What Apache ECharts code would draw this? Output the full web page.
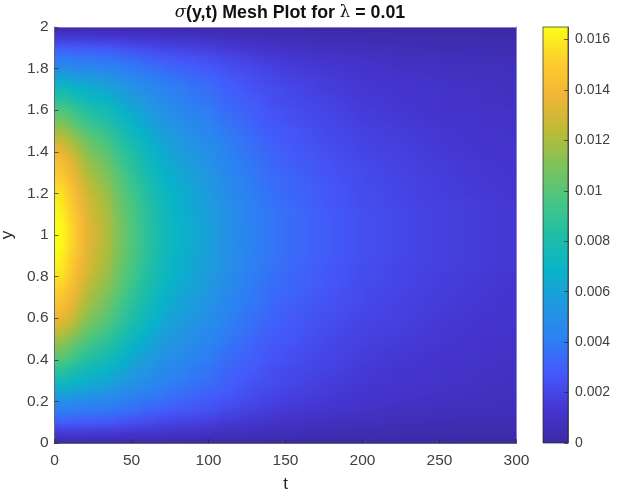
<!DOCTYPE html>
<html><head><meta charset="utf-8">
<style>html,body{margin:0;padding:0;background:#fff}#c{width:617px;height:497px}</style>
<script src="https://cdn.jsdelivr.net/npm/echarts@6/dist/echarts.min.js"></script>
</head><body><div id="c"></div>
<script>
const tValues=[0,5,10,15,20,25,30,35,40,45,50,55,60,65,70,75,80,90,100,110,120,130,140,150,175,200,225,250,275,300];
// sigma readings in units of 1e-4, one list per distance from the wall y=0 (picture is symmetric about y=1)
const u000=[0,1,1,1,2,2,2,2,2,2,2,2,2,2,2,2,2,1,1,1,1,1,1,1,1,1,1,1,0,0];
const u005=[14,15,15,15,15,14,14,14,14,13,13,12,12,12,11,11,10,10,9,8,8,7,6,6,5,4,3,3,3,2];
const u010=[28,30,29,28,28,28,27,27,26,25,24,23,22,21,20,20,19,18,17,15,14,12,11,10,8,7,6,5,5,4];
const u015=[38,40,40,38,38,38,37,37,35,34,33,32,30,29,28,27,26,25,23,21,19,17,15,14,12,10,8,7,6,6];
const u020=[47,50,49,47,48,46,46,45,43,42,40,39,37,36,35,33,32,30,28,25,23,21,19,17,14,12,10,9,8,7];
const u025=[62,64,62,59,59,57,56,54,52,49,47,45,43,41,40,38,37,34,32,29,26,23,21,19,16,13,12,10,9,8];
const u030=[74,76,73,70,68,65,64,62,59,56,53,51,48,46,44,42,41,37,35,31,28,25,23,21,17,14,13,11,10,8];
const u035=[86,87,83,79,76,73,71,69,65,62,58,56,53,50,47,45,44,40,37,33,30,27,24,22,19,15,13,12,10,9];
const u040=[97,98,94,88,85,81,78,76,71,67,63,60,57,54,51,49,47,43,40,35,32,29,26,24,20,16,14,12,11,10];
const u045=[108,108,103,97,92,88,85,82,77,73,68,65,61,58,54,52,50,46,42,37,34,30,27,25,21,17,15,13,12,10];
const u050=[118,117,112,105,100,95,92,88,83,78,73,69,65,61,58,55,53,48,45,40,36,32,29,27,22,18,16,14,12,11];
const u055=[128,127,121,113,107,102,98,94,88,83,77,74,69,65,61,58,56,51,47,42,38,34,30,28,23,19,17,14,13,11];
const u060=[137,135,129,121,114,108,104,100,93,88,82,78,73,69,65,61,59,54,50,44,39,35,32,29,24,20,18,15,13,12];
const u065=[143,142,135,126,119,113,109,104,97,91,85,81,76,71,67,64,61,56,51,45,41,37,33,30,25,21,18,16,14,12];
const u070=[149,147,140,131,123,117,113,108,101,95,88,84,78,74,69,66,63,58,53,47,42,38,34,32,26,22,19,16,14,13];
const u075=[154,152,144,135,127,121,116,112,104,98,91,86,81,76,72,68,65,60,55,48,44,39,35,33,27,22,20,17,15,13];
const u080=[158,156,148,138,131,124,119,115,107,100,94,89,83,78,74,70,67,61,56,50,45,40,36,33,28,23,20,17,15,13];
const u085=[161,159,151,141,134,127,122,117,109,102,96,91,85,80,75,71,68,62,58,51,46,41,37,34,28,23,20,18,16,14];
const u090=[163,161,153,143,135,128,123,119,111,104,97,92,86,81,76,72,69,63,58,51,46,41,38,35,29,24,21,18,16,14];
const u095=[165,163,155,145,137,130,125,120,112,105,98,93,87,82,77,73,70,64,59,52,47,42,38,35,29,24,21,18,16,14];
const u100=[165,163,155,145,137,130,125,120,112,105,98,93,87,82,77,73,70,64,59,52,47,42,38,35,29,24,21,18,16,14];
const halfRows=[u000,u005,u010,u015,u020,u025,u030,u035,u040,u045,u050,u055,u060,u065,u070,u075,u080,u085,u090,u095,u100];
const yBottom=[0,0.05,0.1,0.15,0.2,0.25,0.3,0.35,0.4,0.45,0.5,0.55,0.6,0.65,0.7,0.75,0.8,0.85,0.9,0.95,1];
const colorbarTicks=[0,0.002,0.004,0.006,0.008,0.01,0.012,0.014,0.016];
const colorMax=0.0165;
const palette=['#3c2aa3','#4536d2','#4558fb','#2d80f4','#2198e0','#08b4c8','#20bea6','#48c682','#7ec35a','#bcbb36','#f2b536','#fecd2e','#faff14'];

const yValues=yBottom.concat(yBottom.slice(0,-1).reverse().map(u=>2-u));
const rows=halfRows.concat(halfRows.slice(0,-1).reverse());
const nT=tValues.length,nY=yValues.length;
const points=[];
rows.forEach((r,j)=>r.forEach((v,i)=>points.push([tValues[i],yValues[j],v*1e-4])));
const colorOf=v=>echarts.color.lerp(Math.min(v/colorMax,1),palette);

// one mesh facet with interpolated shading, like MATLAB's "shading interp": a 2x2 image upscaled between the four corners
function facet(c00,c10,c01,c11){
  const cv=document.createElement('canvas');cv.width=2;cv.height=2;
  const g=cv.getContext('2d');
  g.fillStyle=c01;g.fillRect(0,0,1,1);g.fillStyle=c11;g.fillRect(1,0,1,1);
  g.fillStyle=c00;g.fillRect(0,1,1,1);g.fillStyle=c10;g.fillRect(1,1,1,1);
  return cv;
}

const font='"Liberation Sans",Arial,sans-serif';
const axisTxt={color:'#404040',fontSize:15.5,fontFamily:font};
const barTxt={color:'#404040',fontSize:14,fontFamily:font};
const nameTxt={color:'#262626',fontSize:17,fontFamily:font};
const line={onZero:false,lineStyle:{color:'#262626',width:0.7}};
const tick={inside:true,length:4,lineStyle:{color:'#262626',width:0.7}};
const edge={onZero:false,lineStyle:{color:'#8c7fe0',width:1}};
const chart=echarts.init(document.getElementById('c'),null,{renderer:'canvas'});
chart.setOption({
  animation:false,backgroundColor:'#fff',
  title:{left:285,top:-1,textAlign:'center',
    text:'{g|σ}{b|(y,t) Mesh Plot for }{l|λ}{b| = 0.01}',
    textStyle:{rich:{
      b:{fontFamily:font,fontWeight:'bold',fontSize:17.8,color:'#111'},
      g:{fontFamily:'"DejaVu Serif",serif',fontStyle:'italic',fontWeight:'normal',fontSize:16.5,color:'#111'},
      l:{fontFamily:'"DejaVu Serif",serif',fontWeight:'normal',fontSize:16.5,color:'#111'}}}},
  grid:[{left:54.5,top:27,width:462,height:416,outerBoundsMode:'none'},{left:543,top:27,width:25,height:416,outerBoundsMode:'none'}],
  xAxis:[
    {gridIndex:0,type:'value',min:0,max:300,interval:50,z:5,name:'t',nameLocation:'middle',nameGap:33,nameTextStyle:nameTxt,
     axisLine:line,axisTick:tick,axisLabel:{...axisTxt,margin:10},splitLine:{show:false}},
    {gridIndex:1,type:'value',min:0,max:1,show:false},
    {gridIndex:0,type:'value',min:0,max:300,position:'top',z:5,axisLine:edge,axisTick:{show:false},axisLabel:{show:false},splitLine:{show:false}}
  ],
  yAxis:[
    {gridIndex:0,type:'value',min:0,max:2,interval:0.2,z:5,name:'y',nameLocation:'middle',nameGap:37,nameTextStyle:nameTxt,
     axisLine:line,axisTick:tick,axisLabel:{...axisTxt,margin:6},splitLine:{show:false}},
    {gridIndex:1,type:'value',min:0,max:colorMax,position:'right',z:5,
     axisLine:line,axisTick:{...tick,customValues:colorbarTicks},
     axisLabel:{...barTxt,margin:7,customValues:colorbarTicks,formatter:v=>String(v)},splitLine:{show:false}},
    {gridIndex:0,type:'value',min:0,max:2,position:'right',z:5,axisLine:edge,axisTick:{show:false},axisLabel:{show:false},splitLine:{show:false}}
  ],
  visualMap:{show:false,seriesIndex:0,dimension:2,min:0,max:colorMax,inRange:{color:palette}},
  series:[
    {type:'custom',xAxisIndex:0,yAxisIndex:0,data:points,encode:{x:0,y:1},silent:true,clip:true,
     renderItem:(p,api)=>{
       const k=p.dataIndex,i=k%nT,j=Math.floor(k/nT);
       if(i===nT-1||j===nY-1) return null;
       const a=api.coord([tValues[i],yValues[j+1]]),b=api.coord([tValues[i+1],yValues[j]]);
       const x=Math.round(a[0]),y=Math.round(a[1]);
       const v=(n)=>colorOf(points[n][2]);
       return {type:'image',style:{image:facet(v(k),v(k+1),v(k+nT),v(k+nT+1)),x,y,
         width:Math.round(b[0])-x,height:Math.round(b[1])-y,sx:0.5,sy:0.5,sWidth:1,sHeight:1}};
     }},
    {type:'custom',xAxisIndex:1,yAxisIndex:1,data:[[0,1,0,colorMax]],encode:{x:[0,1],y:[2,3]},silent:true,
     renderItem:(p,api)=>{
       const a=api.coord([api.value(0),api.value(3)]),b=api.coord([api.value(1),api.value(2)]);
       return {type:'rect',shape:{x:a[0],y:a[1],width:b[0]-a[0],height:b[1]-a[1]},
         style:{stroke:'#262626',lineWidth:0.7,fill:{type:'linear',x:0,y:1,x2:0,y2:0,
           colorStops:palette.map((c,i)=>({offset:i/(palette.length-1),color:c}))}}};
     }}
  ]
});
</script></body></html>
